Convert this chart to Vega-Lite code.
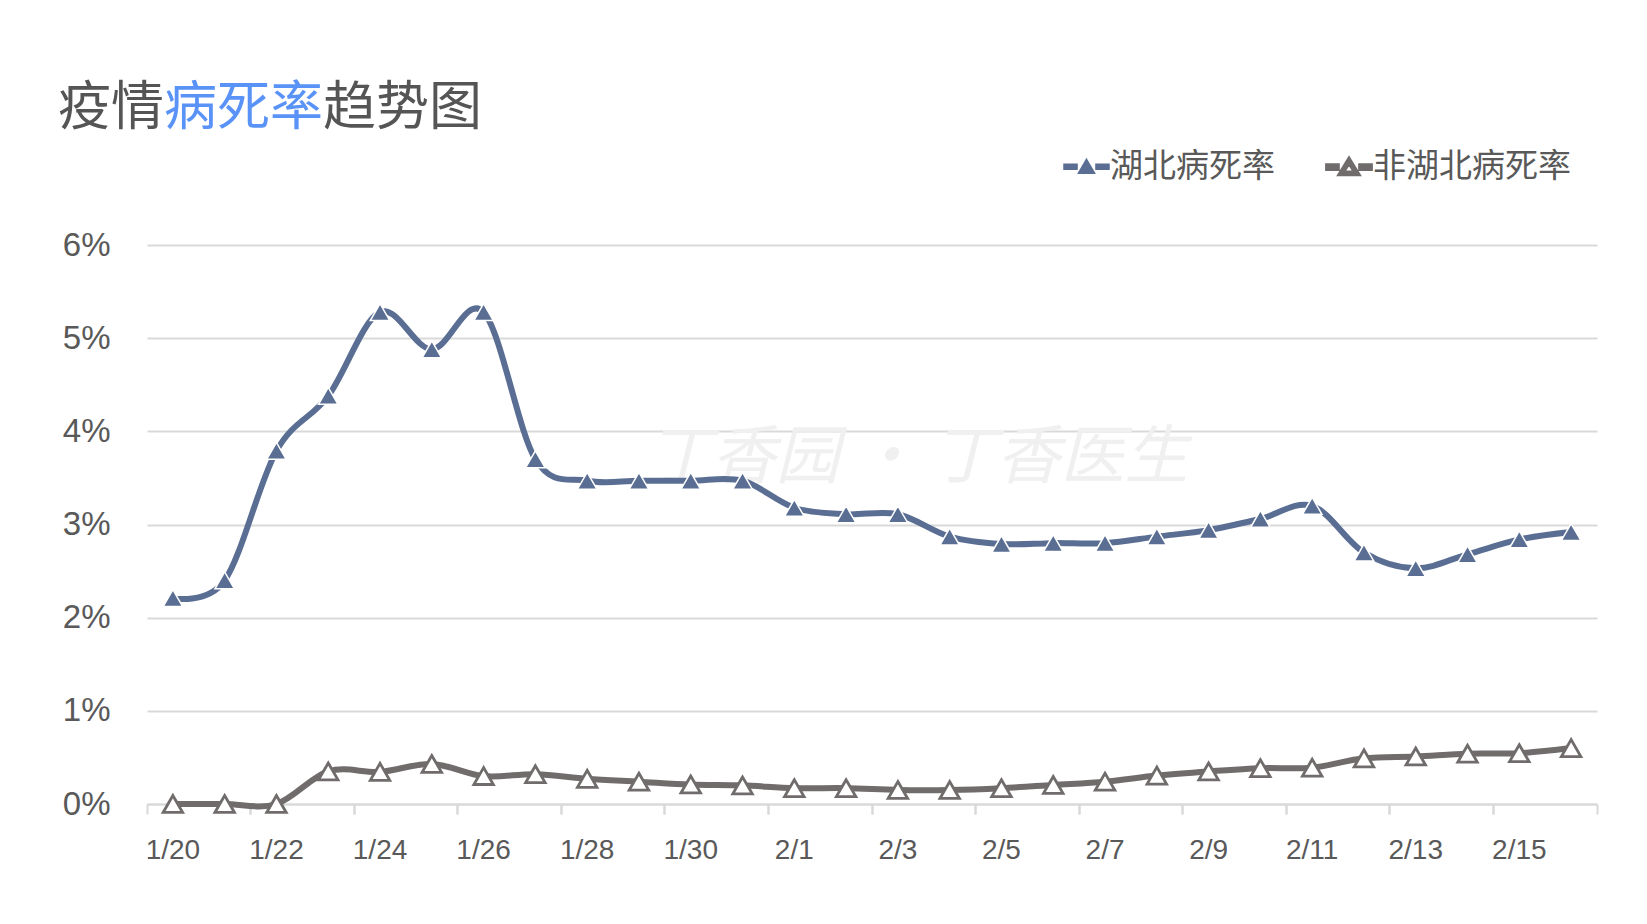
{
  "$schema": "https://vega.github.io/schema/vega-lite/v6.json",
  "width": 1450,
  "height": 559,
  "autosize": "none",
  "padding": {"left": 147, "top": 245, "right": 50, "bottom": 120},
  "background": "#ffffff",
  "config": {"view": {"stroke": null}, "font": "Liberation Sans"},
  "data": {"values": [
    {"date": "1/20", "series": "湖北病死率", "value": 2.21},
    {"date": "1/21", "series": "湖北病死率", "value": 2.40},
    {"date": "1/22", "series": "湖北病死率", "value": 3.79},
    {"date": "1/23", "series": "湖北病死率", "value": 4.38},
    {"date": "1/24", "series": "湖北病死率", "value": 5.28},
    {"date": "1/25", "series": "湖北病死率", "value": 4.88},
    {"date": "1/26", "series": "湖北病死率", "value": 5.28},
    {"date": "1/27", "series": "湖北病死率", "value": 3.70},
    {"date": "1/28", "series": "湖北病死率", "value": 3.47},
    {"date": "1/29", "series": "湖北病死率", "value": 3.47},
    {"date": "1/30", "series": "湖北病死率", "value": 3.47},
    {"date": "1/31", "series": "湖北病死率", "value": 3.47},
    {"date": "2/1", "series": "湖北病死率", "value": 3.18},
    {"date": "2/2", "series": "湖北病死率", "value": 3.11},
    {"date": "2/3", "series": "湖北病死率", "value": 3.11},
    {"date": "2/4", "series": "湖北病死率", "value": 2.87},
    {"date": "2/5", "series": "湖北病死率", "value": 2.79},
    {"date": "2/6", "series": "湖北病死率", "value": 2.80},
    {"date": "2/7", "series": "湖北病死率", "value": 2.80},
    {"date": "2/8", "series": "湖北病死率", "value": 2.87},
    {"date": "2/9", "series": "湖北病死率", "value": 2.94},
    {"date": "2/10", "series": "湖北病死率", "value": 3.06},
    {"date": "2/11", "series": "湖北病死率", "value": 3.20},
    {"date": "2/12", "series": "湖北病死率", "value": 2.70},
    {"date": "2/13", "series": "湖北病死率", "value": 2.53},
    {"date": "2/14", "series": "湖北病死率", "value": 2.68},
    {"date": "2/15", "series": "湖北病死率", "value": 2.84},
    {"date": "2/16", "series": "湖北病死率", "value": 2.92},
    {"date": "1/20", "series": "非湖北病死率", "value": 0},
    {"date": "1/21", "series": "非湖北病死率", "value": 0},
    {"date": "1/22", "series": "非湖北病死率", "value": 0},
    {"date": "1/23", "series": "非湖北病死率", "value": 0.35},
    {"date": "1/24", "series": "非湖北病死率", "value": 0.345},
    {"date": "1/25", "series": "非湖北病死率", "value": 0.43},
    {"date": "1/26", "series": "非湖北病死率", "value": 0.30},
    {"date": "1/27", "series": "非湖北病死率", "value": 0.32},
    {"date": "1/28", "series": "非湖北病死率", "value": 0.27},
    {"date": "1/29", "series": "非湖北病死率", "value": 0.24},
    {"date": "1/30", "series": "非湖北病死率", "value": 0.21},
    {"date": "1/31", "series": "非湖北病死率", "value": 0.20},
    {"date": "2/1", "series": "非湖北病死率", "value": 0.17},
    {"date": "2/2", "series": "非湖北病死率", "value": 0.17},
    {"date": "2/3", "series": "非湖北病死率", "value": 0.15},
    {"date": "2/4", "series": "非湖北病死率", "value": 0.15},
    {"date": "2/5", "series": "非湖北病死率", "value": 0.17},
    {"date": "2/6", "series": "非湖北病死率", "value": 0.205},
    {"date": "2/7", "series": "非湖北病死率", "value": 0.24},
    {"date": "2/8", "series": "非湖北病死率", "value": 0.305},
    {"date": "2/9", "series": "非湖北病死率", "value": 0.35},
    {"date": "2/10", "series": "非湖北病死率", "value": 0.385},
    {"date": "2/11", "series": "非湖北病死率", "value": 0.39},
    {"date": "2/12", "series": "非湖北病死率", "value": 0.49},
    {"date": "2/13", "series": "非湖北病死率", "value": 0.51},
    {"date": "2/14", "series": "非湖北病死率", "value": 0.54},
    {"date": "2/15", "series": "非湖北病死率", "value": 0.545},
    {"date": "2/16", "series": "非湖北病死率", "value": 0.60}
  ]},
  "layer": [
    {
      "transform": [{"filter": "false"}],
      "mark": {"type": "point", "filled": true, "opacity": 1},
      "encoding": {
        "x": {"field": "date", "type": "ordinal", "scale": {"type": "band", "paddingInner": 0, "paddingOuter": 0, "domain": ["1/20","1/21","1/22","1/23","1/24","1/25","1/26","1/27","1/28","1/29","1/30","1/31","2/1","2/2","2/3","2/4","2/5","2/6","2/7","2/8","2/9","2/10","2/11","2/12","2/13","2/14","2/15","2/16"]}, "axis": null},
        "y": {"field": "value", "type": "quantitative", "scale": {"domain": [0, 6], "nice": false}},
        "color": {"field": "series", "type": "nominal", "scale": {"domain": ["湖北病死率", "非湖北病死率"], "range": ["#5a6e94", "#716c6c"]},
          "legend": {"title": null, "orient": "none", "legendX": 916, "legendY": -102, "direction": "horizontal", "symbolSize": 2025, "symbolStrokeWidth": 0, "labelFont": "Noto Sans CJK SC", "labelFontSize": 33, "labelColor": "#595959", "labelLimit": 400, "labelOffset": 0, "columnPadding": 45, "padding": 0}},
        "shape": {"field": "series", "type": "nominal", "scale": {"domain": ["湖北病死率", "非湖北病死率"], "range": ["M-1,-0.11L-0.42,-0.11L-0.42,0.11L-1,0.11Z M0.42,-0.11L1,-0.11L1,0.11L0.42,0.11Z M0,-0.33L0.36,0.29L-0.36,0.29Z", "M-1,-0.11L-0.47,-0.11L-0.47,0.11L-1,0.11Z M0.47,-0.11L1,-0.11L1,0.11L0.47,0.11Z M0,-0.4L0.46,0.35L-0.46,0.35Z M0,-0.16L-0.235,0.22L0.235,0.22Z"]},
          "legend": {"title": null, "orient": "none", "legendX": 916, "legendY": -102, "direction": "horizontal", "symbolSize": 2025, "symbolStrokeWidth": 0, "labelFont": "Noto Sans CJK SC", "labelFontSize": 33, "labelColor": "#595959", "labelLimit": 400, "labelOffset": 0, "columnPadding": 45, "padding": 0}}
      }
    },
    {
      "data": {"values": [{"t": "丁香园 · 丁香医生"}]},
      "mark": {"type": "text", "font": "Noto Sans CJK SC", "fontSize": 64, "fontStyle": "italic", "color": "#f0f0f0", "dx": 20, "align": "center", "baseline": "middle"},
      "encoding": {
        "x": {"datum": "2/3", "type": "ordinal", "axis": null},
        "y": {"datum": 3.7, "type": "quantitative"},
        "text": {"field": "t"}
      }
    },
    {
      "mark": {"type": "line", "interpolate": "cardinal", "strokeWidth": 6},
      "encoding": {
        "x": {"field": "date", "type": "ordinal",
          "axis": {"orient": "bottom", "values": ["1/20","1/22","1/24","1/26","1/28","1/30","2/1","2/3","2/5","2/7","2/9","2/11","2/13","2/15"], "bandPosition": 0, "ticks": true, "tickSize": 10, "tickColor": "#d9d9d9", "tickWidth": 2, "grid": false, "domain": true, "domainColor": "#d9d9d9", "domainWidth": 2, "labelFont": "Liberation Sans", "labelFontSize": 28, "labelColor": "#595959", "labelPadding": 22, "labelAngle": 0, "title": null}},
        "y": {"field": "value", "type": "quantitative",
          "axis": {"orient": "left", "values": [0, 1, 2, 3, 4, 5, 6], "labelExpr": "datum.value + '%'", "grid": true, "gridColor": "#d9d9d9", "gridWidth": 2, "domain": false, "ticks": false, "labelFont": "Liberation Sans", "labelFontSize": 33, "labelColor": "#595959", "labelPadding": 37, "title": null}},
        "color": {"field": "series", "type": "nominal", "legend": null}
      }
    },
    {
      "mark": {"type": "point", "shape": "triangle-up", "filled": true, "opacity": 1, "size": 380},
      "encoding": {
        "x": {"field": "date", "type": "ordinal",
          "axis": {"orient": "bottom", "values": ["1/21","1/23","1/25","1/27","1/29","1/31","2/2","2/4","2/6","2/8","2/10","2/12","2/14","2/16"], "bandPosition": 1, "labels": false, "domain": false, "grid": false, "ticks": true, "tickSize": 10, "tickColor": "#d9d9d9", "tickWidth": 2, "title": null}},
        "y": {"field": "value", "type": "quantitative"},
        "fill": {"field": "series", "type": "nominal", "scale": {"domain": ["湖北病死率", "非湖北病死率"], "range": ["#5a6e94", "#ffffff"]}, "legend": null},
        "stroke": {"field": "series", "type": "nominal", "scale": {"domain": ["湖北病死率", "非湖北病死率"], "range": ["#ffffff", "#716c6c"]}, "legend": null},
        "strokeWidth": {"field": "series", "type": "nominal", "scale": {"type": "ordinal", "domain": ["湖北病死率", "非湖北病死率"], "range": [1.5, 2.8]}, "legend": null}
      }
    },
    {
      "data": {"values": [{"t": "疫情"}]},
      "mark": {"type": "text", "font": "Noto Sans CJK SC", "fontSize": 53, "color": "#555555", "align": "left", "baseline": "middle"},
      "encoding": {"x": {"value": -89}, "y": {"value": -136}, "text": {"field": "t"}}
    },
    {
      "data": {"values": [{"t": "病死率"}]},
      "mark": {"type": "text", "font": "Noto Sans CJK SC", "fontSize": 53, "color": "#5a93f8", "align": "left", "baseline": "middle"},
      "encoding": {"x": {"value": 17}, "y": {"value": -136}, "text": {"field": "t"}}
    },
    {
      "data": {"values": [{"t": "趋势图"}]},
      "mark": {"type": "text", "font": "Noto Sans CJK SC", "fontSize": 53, "color": "#555555", "align": "left", "baseline": "middle"},
      "encoding": {"x": {"value": 176}, "y": {"value": -136}, "text": {"field": "t"}}
    }
  ],
  "resolve": {"axis": {"x": "independent"}}
}
